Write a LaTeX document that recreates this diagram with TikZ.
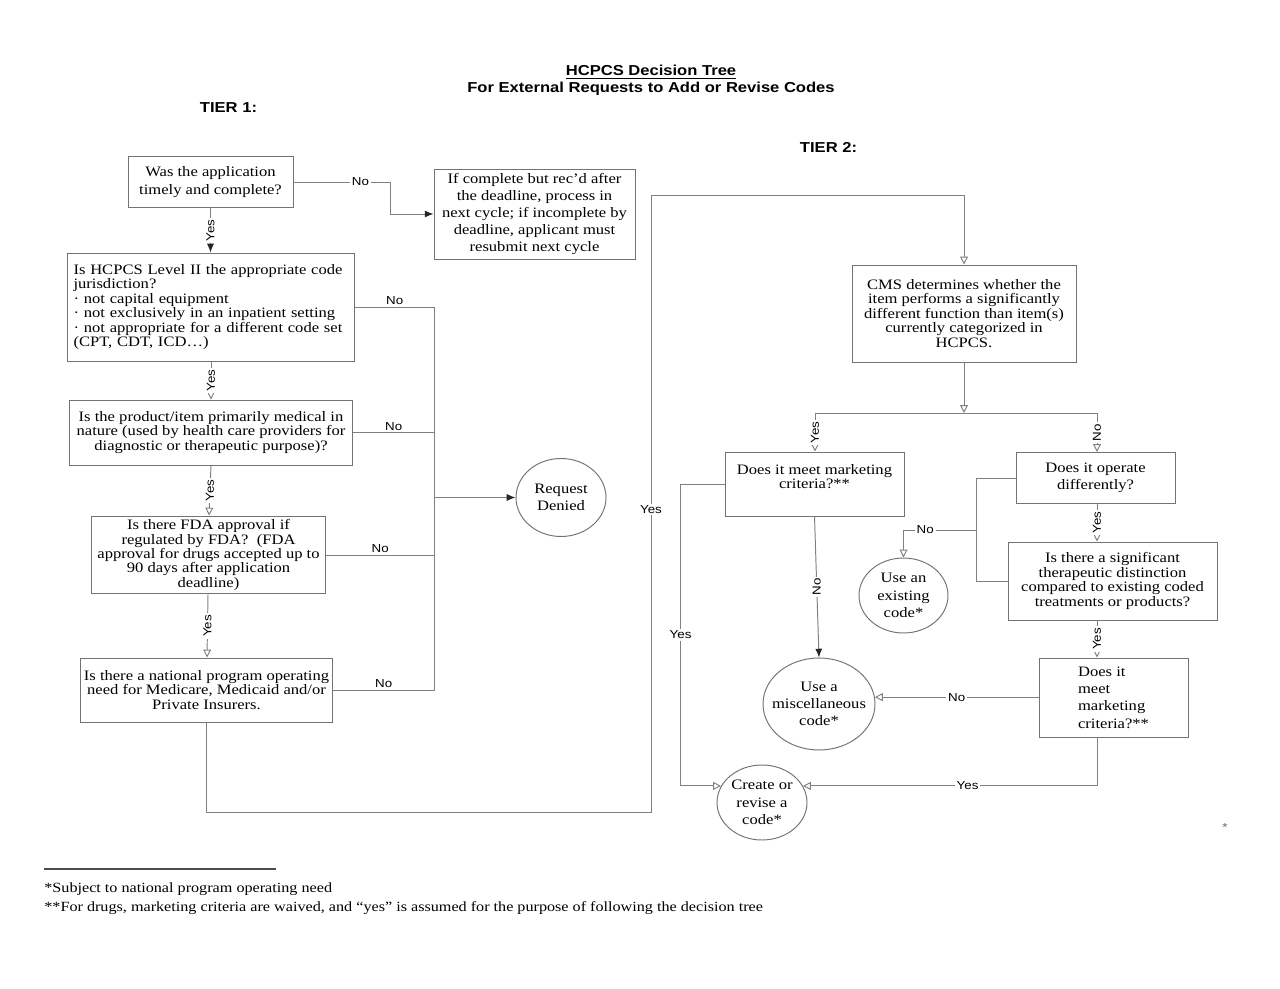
\documentclass[tikz,border=0pt]{standalone}
\usepackage{fontspec}
\setmainfont{Liberation Serif}[FakeStretch=1.15]
\newfontfamily\labelfont{Liberation Sans}[FakeStretch=1.15]
\usetikzlibrary{arrows.meta, shapes.geometric}
\newcommand{\tightfont}{\fontsize{8.2}{8.2}\selectfont}
\newcommand{\loosefont}{\fontsize{8.2}{9.8}\selectfont}
\newcommand{\linefont}{\labelfont\fontsize{6.6}{7}\selectfont}
\newcommand{\headfont}{\labelfont\bfseries\fontsize{8.2}{9.6}\selectfont}

\begin{document}
\begin{tikzpicture}[x=0.02cm, y=-0.02cm,
    box/.style={draw=black!55, line width=0.55pt, inner sep=2pt, align=center},
    tightbox/.style={box, font=\tightfont},
    loosebox/.style={box, font=\loosefont},
    endnode/.style={draw=black!55, line width=0.55pt, ellipse, inner xsep=-8pt, inner ysep=0pt, align=center, font=\loosefont},
    link/.style={draw=black!50, line width=0.55pt},
    solidtip/.style={-{Latex[length=5pt, width=4pt, color=black!85]}},
    opentip/.style={-{Triangle[open, length=4.5pt, width=4.5pt]}},
    onlabel/.style={font=\linefont, fill=white, inner sep=1pt},
    uplabel/.style={font=\linefont, above, inner sep=1pt},
    sidelabel/.style={onlabel, rotate=90},
]
    \useasboundingbox (0,0) rectangle (1280,989);

    % headings
    \node[font=\headfont] (title) at (651,72) {\underline{HCPCS Decision Tree}};
    \node[font=\headfont] (subtitle) at (651,89) {For External Requests to Add or Revise Codes};
    \node[font=\headfont] (tier1) at (228.5,108) {TIER 1:};
    \node[font=\headfont] (tier2) at (828.5,147) {TIER 2:};

    % tier 1 questions
    \node[loosebox, minimum width=3.3cm, minimum height=1.02cm] (timely) at (210.5,182)
        {Was the application\\timely and complete?};
    \node[loosebox, minimum width=4.02cm, minimum height=1.8cm] (nextcycle) at (534.5,214)
        {If complete but rec’d after\\the deadline, process in\\next cycle; if incomplete by\\deadline, applicant must\\resubmit next cycle};
    \node[tightbox, align=left, text width=5.5cm, minimum width=5.76cm, minimum height=2.16cm] (jurisdiction) at (211,307)
        {Is HCPCS Level II the appropriate code\\jurisdiction?\\· not capital equipment\\· not exclusively in an inpatient setting\\· not appropriate for a different code set\\(CPT, CDT, ICD…)};
    \node[tightbox, minimum width=5.68cm, minimum height=1.3cm] (medical) at (211,432.5)
        {Is the product/item primarily medical in\\nature (used by health care providers for\\diagnostic or therapeutic purpose)?};
    \node[tightbox, minimum width=4.7cm, minimum height=1.48cm] (fda) at (208.5,555)
        {Is there FDA approval if\\regulated by FDA?\ \ (FDA\\approval for drugs accepted up to\\90 days after application\\deadline)};
    \node[tightbox, minimum width=5.06cm, minimum height=1.28cm] (need) at (206.5,690)
        {Is there a national program operating\\need for Medicare, Medicaid and/or\\Private Insurers.};
    \node[endnode, minimum width=1.8cm, minimum height=1.56cm] (denied) at (561,497.5)
        {Request\\Denied};

    % tier 2 questions
    \node[tightbox, minimum width=4.48cm, minimum height=1.94cm] (cms) at (964,313.5)
        {CMS determines whether the\\item performs a significantly\\different function than item(s)\\currently categorized in\\HCPCS.};
    \node[tightbox, minimum width=3.58cm, minimum height=1.28cm] (market) at (814.5,484)
        {Does it meet marketing\\criteria?**\\\mbox{}};
    \node[loosebox, minimum width=3.18cm, minimum height=1.02cm] (operate) at (1095.5,478)
        {Does it operate\\differently?};
    \node[tightbox, minimum width=4.18cm, minimum height=1.56cm] (distinct) at (1112.5,581)
        {Is there a significant\\therapeutic distinction\\compared to existing coded\\treatments or products?};
    \node[loosebox, align=left, minimum width=2.98cm, minimum height=1.58cm] (market2) at (1113.5,697.5)
        {Does it\\meet\\marketing\\criteria?**};
    \node[endnode, minimum width=1.78cm, minimum height=1.5cm] (existing) at (903.5,595.5)
        {Use an\\existing\\code*};
    \node[endnode, minimum width=2.24cm, minimum height=1.84cm] (misc) at (819,704)
        {Use a\\miscellaneous\\code*};
    \node[endnode, minimum width=1.8cm, minimum height=1.5cm] (create) at (762,802.5)
        {Create or\\revise a\\code*};

    % junctions
    \coordinate (denybus) at (434,497.5);
    \coordinate (yesbot) at (651,812);
    \coordinate (yestop) at (651,195);
    \coordinate (split) at (964,413);
    \coordinate (leftsplit) at (815,413);
    \coordinate (rightcol) at (1097,413);
    \coordinate (nobus) at (976,530);

    % tier 1 links
    \draw[link, solidtip] (timely.east) -- node[onlabel, pos=.69]{No} ++(97,0) |- (nextcycle.west);
    \draw[link, solidtip] (timely.south) -- node[sidelabel]{Yes} (timely.south |- jurisdiction.north);
    \draw[link, opentip] (jurisdiction.south) -- node[sidelabel]{Yes} (jurisdiction.south |- medical.north);
    \draw[link, opentip] (medical.south) -- node[sidelabel]{Yes} ([xshift=-0.04cm]medical.south |- fda.north);
    \draw[link, opentip] ([xshift=-0.01cm]fda.south) -- node[sidelabel]{Yes} ([xshift=-0.03cm]fda.south |- need.north);

    \draw[link] (jurisdiction.east) -- node[uplabel]{No} (jurisdiction.east -| denybus) |- node[uplabel, pos=.75]{No} (need.east);
    \draw[link] (medical.east) -- node[uplabel]{No} (medical.east -| denybus);
    \draw[link] (fda.east) -- node[uplabel]{No} (fda.east -| denybus);
    \draw[link, solidtip] (denybus) -- (denied.west);

    \draw[link, opentip] (need.south) |- (yesbot) -- node[onlabel, pos=.49]{Yes} (yestop) -| (cms.north);

    % tier 2 links
    \draw[link, opentip] (cms.south) -- (split);
    \draw[link] (leftsplit) -- (rightcol);
    \draw[link, opentip] (leftsplit) -- node[sidelabel]{Yes} (leftsplit |- market.north);
    \draw[link, opentip] (rightcol) -- node[sidelabel]{No} (rightcol |- operate.north);
    \draw[link, opentip] (rightcol |- operate.south) -- node[sidelabel]{Yes} (rightcol |- distinct.north);
    \draw[link, opentip] (rightcol |- distinct.south) -- node[sidelabel]{Yes} (rightcol |- market2.north);

    \draw[link, opentip] (market.west) -- ++(-44,0) |- node[onlabel, pos=.25]{Yes} (create.158);
    \draw[link, solidtip] (market.south) -- node[sidelabel]{No} (misc.north);

    \draw[link] (operate.west) -| (nobus);
    \draw[link] (distinct.west) -| (nobus);
    \draw[link, opentip] (nobus) -| node[onlabel, pos=.35]{No} (existing.north);

    \draw[link, opentip] (market2.west |- misc.7) -- node[onlabel]{No} (misc.7);
    \draw[link, opentip] (rightcol |- market2.south) |- node[onlabel, pos=.72]{Yes} (create.22);

    \node[font=\linefont, text=black!60] (star) at (1225,828) {*};

    % footnotes
    \draw[black!70, line width=0.6pt] (44,869) -- (276,869);
    \node[anchor=west, inner sep=0pt, font=\fontsize{8}{9}\selectfont] (note1) at (44,889)
        {*Subject to national program operating need};
    \node[anchor=west, inner sep=0pt, font=\fontsize{8}{9}\selectfont] (note2) at (44,908)
        {**For drugs, marketing criteria are waived, and “yes” is assumed for the purpose of following the decision tree};
\end{tikzpicture}
\end{document}
